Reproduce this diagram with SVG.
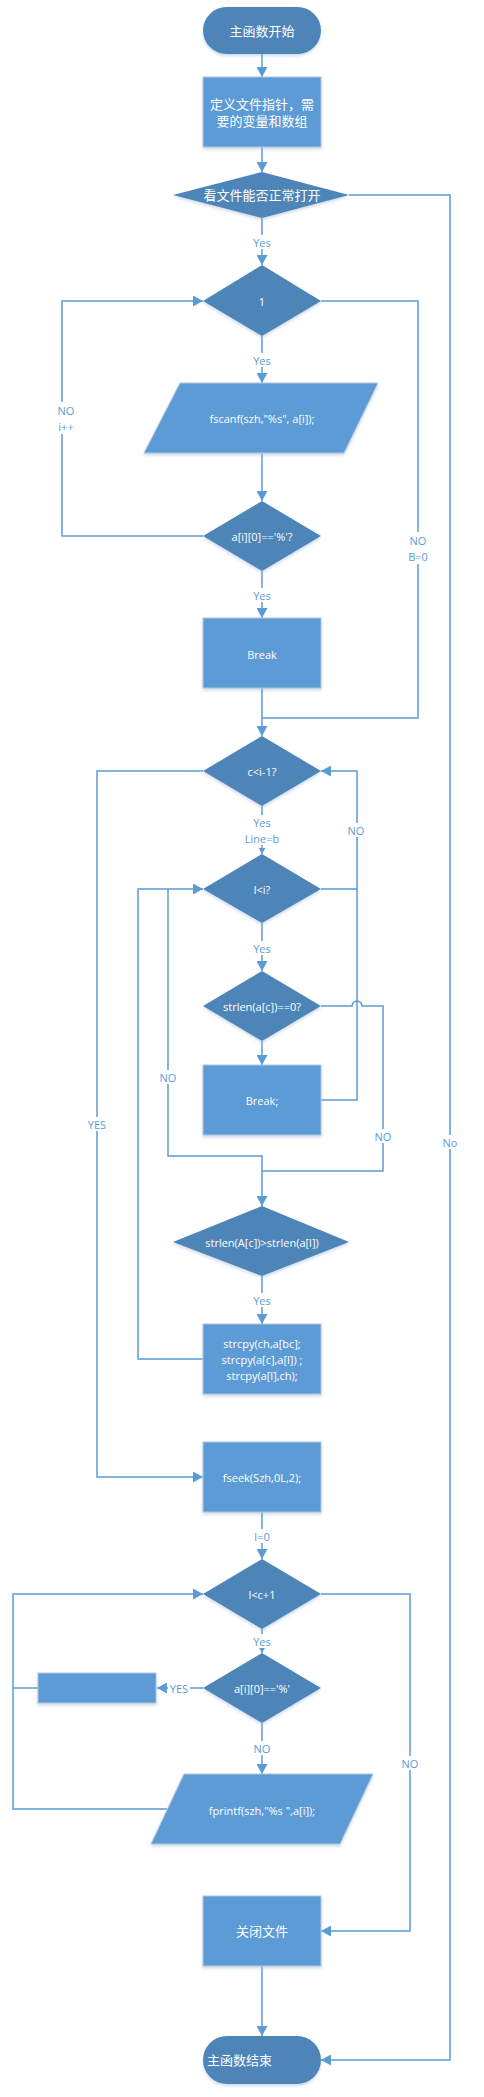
<svg xmlns="http://www.w3.org/2000/svg" width="484" height="2097" viewBox="0 0 484 2097">
<style>
.dk{fill:#4E85B8;}
.lt{fill:#5B9BD5;stroke:#B4C7DC;stroke-width:1;}
.t{fill:#FFFFFF;font-family:"Open Sans","Liberation Sans","Noto Sans CJK SC",sans-serif;font-size:11px;text-anchor:middle;dominant-baseline:central;}
.cj{font-size:13px;}
.c{fill:none;stroke:#5B9BD5;stroke-width:1.5;}
.lb{fill:#5B9BD5;font-family:"Open Sans","Liberation Sans",sans-serif;font-size:11px;text-anchor:middle;dominant-baseline:central;}
.bg{fill:#FFFFFF;}
</style>
<defs>
<marker id="a" markerUnits="userSpaceOnUse" markerWidth="11" markerHeight="11" refX="10" refY="5.5" orient="auto"><path d="M0,0 L10,5.5 L0,11 z" fill="#5B9BD5"/></marker>
<marker id="s" markerUnits="userSpaceOnUse" markerWidth="7" markerHeight="7" refX="6" refY="3.5" orient="auto"><path d="M0,0 L6,3.5 L0,7 z" fill="#5B9BD5"/></marker>
<filter id="sh" x="-10%" y="-10%" width="120%" height="130%"><feDropShadow dx="0" dy="2" stdDeviation="1.5" flood-color="#9DB9D8" flood-opacity="0.5"/></filter>
</defs>
<rect width="484" height="2097" fill="#FFFFFF"/>
<g id="connectors">
<path class="c" d="M262,54 L262,77" marker-end="url(#a)"/>
<path class="c" d="M262,147 L262,172" marker-end="url(#a)"/>
<path class="c" d="M262,218 L262,265" marker-end="url(#a)"/>
<path class="c" d="M349,195 L450,195 L450,2060 L321,2060" marker-end="url(#a)"/>
<path class="c" d="M262,336 L262,383" marker-end="url(#a)"/>
<path class="c" d="M262,453 L262,501" marker-end="url(#a)"/>
<path class="c" d="M203,536 L62,536 L62,301 L203,301" marker-end="url(#a)"/>
<path class="c" d="M321,301 L418,301 L418,718 L262,718"/>
<path class="c" d="M262,571 L262,618" marker-end="url(#a)"/>
<path class="c" d="M262,688 L262,736" marker-end="url(#a)"/>
<path class="c" d="M203,771 L97,771 L97,1477 L203,1477" marker-end="url(#a)"/>
<path class="c" d="M262,806 L262,854" marker-end="url(#s)"/>
<path class="c" d="M321,889 L357,889 L357,771 L321,771" marker-end="url(#a)"/>
<path class="c" d="M262,923 L262,971" marker-end="url(#a)"/>
<path class="c" d="M321,1006 L352,1006 A5,5 0 0 1 362,1006 L383,1006 L383,1171 L262,1171"/>
<path class="c" d="M262,1041 L262,1065" marker-end="url(#a)"/>
<path class="c" d="M321,1100 L357,1100 L357,889"/>
<path class="c" d="M168,889 L168,1156 L262,1156 L262,1206" marker-end="url(#a)"/>
<path class="c" d="M203,1359 L138,1359 L138,889 L203,889" marker-end="url(#a)"/>
<path class="c" d="M262,1276 L262,1324" marker-end="url(#a)"/>
<path class="c" d="M262,1512 L262,1559" marker-end="url(#a)"/>
<path class="c" d="M262,1629 L262,1653" marker-end="url(#s)"/>
<path class="c" d="M321,1594 L410,1594 L410,1931 L321,1931" marker-end="url(#a)"/>
<path class="c" d="M203,1688 L157,1688" marker-end="url(#a)"/>
<path class="c" d="M38,1688 L13,1688"/>
<path class="c" d="M167,1809 L13,1809 L13,1594 L203,1594" marker-end="url(#a)"/>
<path class="c" d="M262,1723 L262,1774" marker-end="url(#a)"/>
<path class="c" d="M262,1966 L262,2036" marker-end="url(#a)"/>
<g id="labels">
<rect class="bg" x="250" y="235" width="24" height="14"/><text class="lb" x="262" y="242">Yes</text>
<rect class="bg" x="250" y="353" width="24" height="14"/><text class="lb" x="262" y="360">Yes</text>
<rect class="bg" x="52" y="402" width="20" height="32"/><text class="lb" x="66" y="410">NO</text><text class="lb" x="66" y="426">i++</text>
<rect class="bg" x="405" y="532" width="26" height="32"/><text class="lb" x="418" y="540">NO</text><text class="lb" x="418" y="556">B=0</text>
<rect class="bg" x="250" y="588" width="24" height="14"/><text class="lb" x="262" y="595">Yes</text>
<rect class="bg" x="240" y="815" width="44" height="30"/><text class="lb" x="262" y="822">Yes</text><text class="lb" x="262" y="838">Line=b</text>
<rect class="bg" x="345" y="823" width="24" height="14"/><text class="lb" x="356" y="830">NO</text>
<rect class="bg" x="250" y="941" width="24" height="14"/><text class="lb" x="262" y="948">Yes</text>
<rect class="bg" x="156" y="1070" width="24" height="14"/><text class="lb" x="168" y="1077">NO</text>
<rect class="bg" x="85" y="1117" width="24" height="14"/><text class="lb" x="97" y="1124">YES</text>
<rect class="bg" x="371" y="1129" width="24" height="14"/><text class="lb" x="383" y="1136">NO</text>
<rect class="bg" x="438" y="1135" width="24" height="14"/><text class="lb" x="450" y="1142">No</text>
<rect class="bg" x="250" y="1293" width="24" height="14"/><text class="lb" x="262" y="1300">Yes</text>
<rect class="bg" x="252" y="1529" width="20" height="14"/><text class="lb" x="262" y="1536">l=0</text>
<rect class="bg" x="250" y="1634" width="24" height="14"/><text class="lb" x="262" y="1641">Yes</text>
<rect class="bg" x="168" y="1681" width="22" height="14"/><text class="lb" x="179" y="1688">YES</text>
<rect class="bg" x="250" y="1741" width="24" height="14"/><text class="lb" x="262" y="1748">NO</text>
<rect class="bg" x="398" y="1756" width="24" height="14"/><text class="lb" x="410" y="1763">NO</text>
</g>
</g>
<g id="start"><rect class="dk" x="203" y="7" width="118" height="47" rx="23.5" filter="url(#sh)"/><text class="t cj" x="262" y="31">主函数开始</text></g>
<g id="define"><rect class="lt" x="203" y="77" width="118" height="70" filter="url(#sh)"/><text class="t cj" x="262" y="104">定义文件指针，需</text><text class="t cj" x="262" y="121">要的变量和数组</text></g>
<g id="openCheck"><polygon class="dk" points="173,195 262,172 349,195 262,218" filter="url(#sh)"/><text class="t cj" x="262" y="195">看文件能否正常打开</text></g>
<g id="loop1"><polygon class="dk" points="203,301 262,265 321,301 262,336" filter="url(#sh)"/><text class="t" x="262" y="301">1</text></g>
<g id="fscanf"><polygon class="lt" points="180,383 378,383 344,453 144,453" filter="url(#sh)"/><text class="t" x="262" y="418">fscanf(szh,"%s", a[i]);</text></g>
<g id="pctCheck"><polygon class="dk" points="203,536 262,501 321,536 262,571" filter="url(#sh)"/><text class="t" x="262" y="536">a[i][0]=='%'?</text></g>
<g id="break1"><rect class="lt" x="203" y="618" width="118" height="70" filter="url(#sh)"/><text class="t" x="262" y="654">Break</text></g>
<g id="cCheck"><polygon class="dk" points="203,771 262,736 321,771 262,806" filter="url(#sh)"/><text class="t" x="262" y="771">c&lt;i-1?</text></g>
<g id="lCheck"><polygon class="dk" points="203,889 262,854 321,889 262,923" filter="url(#sh)"/><text class="t" x="262" y="889">l&lt;i?</text></g>
<g id="strlenZero"><polygon class="dk" points="203,1006 262,971 321,1006 262,1041" filter="url(#sh)"/><text class="t" x="262" y="1006">strlen(a[c])==0?</text></g>
<g id="break2"><rect class="lt" x="203" y="1065" width="118" height="70" filter="url(#sh)"/><text class="t" x="262" y="1100">Break;</text></g>
<g id="strlenCmp"><polygon class="dk" points="173,1242 262,1206 349,1242 262,1276" filter="url(#sh)"/><text class="t" x="262" y="1242">strlen(A[c])&gt;strlen(a[l])</text></g>
<g id="strcpy"><rect class="lt" x="203" y="1324" width="118" height="70" filter="url(#sh)"/><text class="t" x="262" y="1343">strcpy(ch,a[bc];</text><text class="t" x="262" y="1359">strcpy(a[c],a[l])  ;</text><text class="t" x="262" y="1375">strcpy(a[l],ch);</text></g>
<g id="fseek"><rect class="lt" x="203" y="1442" width="118" height="70" filter="url(#sh)"/><text class="t" x="262" y="1477">fseek(Szh,0L,2);</text></g>
<g id="lc1"><polygon class="dk" points="203,1594 262,1559 321,1594 262,1629" filter="url(#sh)"/><text class="t" x="262" y="1594">l&lt;c+1</text></g>
<g id="pct2"><polygon class="dk" points="203,1688 262,1653 321,1688 262,1723" filter="url(#sh)"/><text class="t" x="262" y="1688">a[i][0]=='%'</text></g>
<g id="emptyBox"><rect class="lt" x="38" y="1673" width="118" height="30" filter="url(#sh)"/></g>
<g id="fprintf"><polygon class="lt" points="184,1774 373,1774 340,1844 151,1844" filter="url(#sh)"/><text class="t" x="262" y="1810">fprintf(szh,"%s ",a[i]);</text></g>
<g id="close"><rect class="lt" x="203" y="1896" width="118" height="70" filter="url(#sh)"/><text class="t cj" x="262" y="1931">关闭文件</text></g>
<g id="end"><rect class="dk" x="203" y="2036" width="118" height="48" rx="24" filter="url(#sh)"/><text class="t cj" x="207" y="2060" style="text-anchor:start">主函数结束</text></g>
</svg>
